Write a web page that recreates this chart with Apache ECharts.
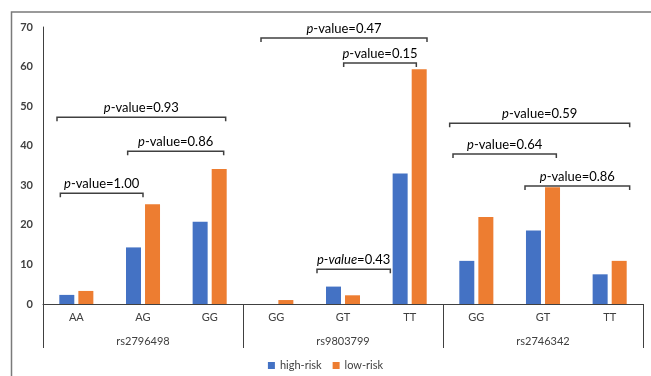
<!DOCTYPE html>
<html><head><meta charset="utf-8">
<script src="https://cdn.jsdelivr.net/npm/echarts@6/dist/echarts.min.js"></script>
<style>html,body{margin:0;padding:0;background:#fff}#c{width:651px;height:376px}</style>
</head><body><div id="c"></div>
<script>
const genotypes = ['AA','AG','GG','GG','GT','TT','GG','GT','TT'];
const snps = ['rs2796498','rs9803799','rs2746342'];
const highRisk = [2.3, 14.3, 20.8, 0, 4.4, 33.0, 10.9, 18.6, 7.5];
const lowRisk  = [3.3, 25.2, 34.1, 1.0, 2.2, 59.3, 22.0, 29.5, 10.9];
const yTicks = {min: 0, max: 70, interval: 10};
// bracket annotations: start/end in category-index units, level in value units
const bracketStart = [-0.24, 0.77, -0.29, 2.77, 4.01, 3.61, 5.60, 5.65, 6.73];
const bracketEnd   = [ 1.00, 2.21,  2.24, 5.26, 5.10, 4.71, 8.30, 7.20, 8.30];
const bracketLevel = [ 28.0, 38.6,  47.2, 67.2, 60.9,  8.8, 45.7, 37.9, 29.8];
const bracketText  = ['{i|p}-value=1.00','{i|p}-value=0.86','{i|p}-value=0.93','{i|p}-value=0.47','{i|p}-value=0.15','{i|p-value}=0.43','{i|p}-value=0.59','{i|p}-value=0.64','{i|p}-value=0.86'];

const FONT = 'Lato';
const chart = echarts.init(document.getElementById('c'), null, {renderer:'canvas'});
const bracketData = bracketStart.map((s,i)=>[s, bracketEnd[i], bracketLevel[i], i]);
chart.setOption({
  animation: false,
  textStyle: {fontFamily: FONT},
  graphic: [{type:'rect', shape:{x:11.5, y:12, width:700, height:500}, style:{fill:'none', stroke:'#7a7a7a', lineWidth:1.5}, silent:true}],
  legend: {bottom: 0, left: 'center', icon: 'rect', itemWidth: 7, itemHeight: 7, itemGap: 11,
    textStyle: {fontFamily: FONT, fontSize: 11, color: '#404040'}, data: ['high-risk','low-risk']},
  grid: {left: 43, right: 8, top: 27, bottom: 72},
  xAxis: [
    {type:'category', data: genotypes, position:'bottom',
     axisLine:{show:true, lineStyle:{color:'#404040', width:1}},
     axisTick:{show:false}, axisLabel:{margin:8, fontSize:11, color:'#404040', fontFamily:FONT, interval:0}},
    {type:'category', data: snps, position:'bottom',
     axisLine:{show:false}, axisTick:{show:true, length:44, alignWithLabel:false, interval:0, lineStyle:{color:'#404040'}},
     axisLabel:{margin:32, fontSize:11, color:'#404040', fontFamily:FONT, interval:0}}
  ],
  yAxis: {type:'value', min: yTicks.min, max: yTicks.max, interval: yTicks.interval,
    axisLine:{show:true, lineStyle:{color:'#404040'}}, axisTick:{show:false}, splitLine:{show:false},
    axisLabel:{margin:10, fontSize:11, fontWeight:'bold', color:'#404040', fontFamily:FONT}},
  series: [
    {name:'high-risk', type:'bar', data: highRisk, barWidth: 15, barGap: '27%', itemStyle:{color:'#4472C4'}},
    {name:'low-risk', type:'bar', data: lowRisk, barWidth: 15, itemStyle:{color:'#ED7D31'}},
    {type:'custom', data: bracketData, silent:true, z: 5,
     renderItem: function(params, api){
       const s = api.value(0), e = api.value(1), lv = api.value(2), idx = api.value(3);
       const c0 = api.coord([0, lv]);
       const bw = api.size([1, 0])[0];
       const x1 = c0[0] + s*bw, x2 = c0[0] + e*bw, y = c0[1];
       return {type:'group', children:[
         {type:'polyline', shape:{points:[[x1,y+4],[x1,y],[x2,y],[x2,y+4]]}, style:{stroke:'#404040', lineWidth:1.5, fill:null}},
         {type:'text', x:(x1+x2)/2, y:y-3, style:{text: bracketText[idx], fontFamily:FONT, fontSize:13, fill:'#000', align:'center', verticalAlign:'bottom',
            rich:{i:{fontStyle:'italic', fontFamily:FONT, fontSize:13, fill:'#000'}}}}
       ]};
     }}
  ]
});
</script></body></html>
